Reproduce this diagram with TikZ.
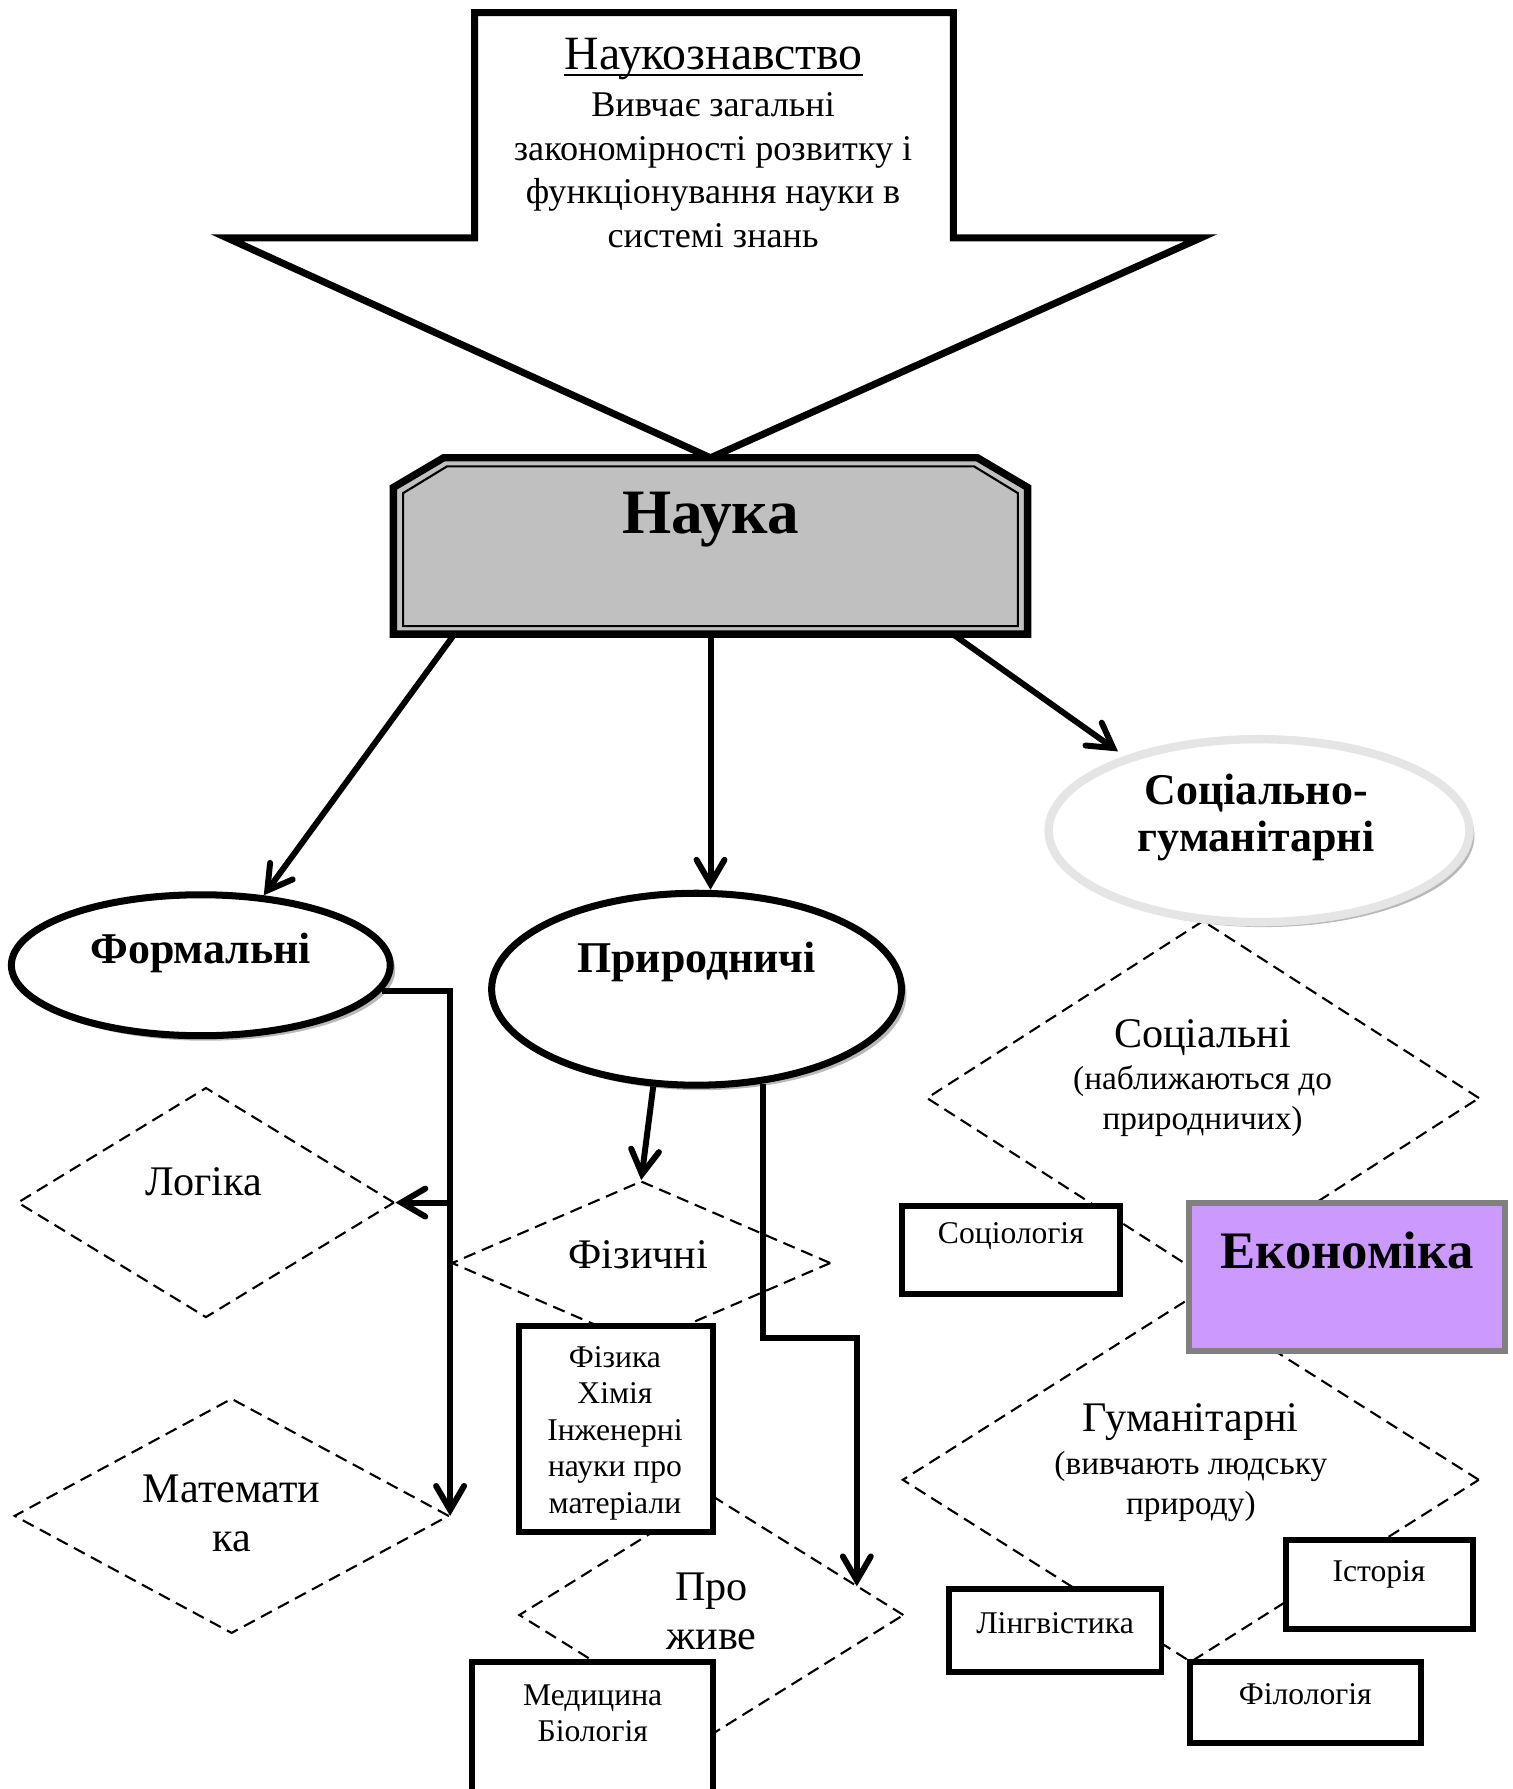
\documentclass[tikz,border=0pt]{standalone}
\usepackage{fontspec}
\setmainfont{Liberation Serif}
\usetikzlibrary{shapes.geometric, arrows.meta, calc, positioning, shadows}
\definecolor{naukagray}{HTML}{C0C0C0}
\definecolor{econviolet}{HTML}{CC99FF}
\definecolor{econborder}{HTML}{808080}
\tikzset{>=latex}
\tikzset{
  field/.style={ellipse, draw=black, line width=2pt, fill=white, inner sep=0,
    drop shadow={shadow xshift=0.5mm, shadow yshift=-0.5mm, fill=gray!55, opacity=1}},
  branch/.style={shape=diamond, draw=black, line width=0.6pt, dash pattern=on 3.5pt off 2pt, inner sep=0},
  leaf/.style={rectangle, draw=black, line width=1.7pt, fill=white, inner sep=0},
  arrow/.style={-{Straight Barb[length=2.4mm, width=2.8mm, line cap=round]}, line width=1.7pt},
  title/.style={font=\bfseries\fontsize{12.5}{13.3}\selectfont, align=center, inner sep=0},
  branchtxt/.style={font=\fontsize{12}{14}\selectfont, align=center, inner sep=0},
  note/.style={font=\fontsize{9.5}{11.5}\selectfont, align=center, inner sep=0},
  leaftxt/.style={font=\fontsize{9}{10.4}\selectfont, align=center, inner sep=0}
}

\begin{document}
\begin{tikzpicture}[x=0.01141cm, y=-0.01141cm]
\useasboundingbox (0,0) rectangle (1326,1568);

% Science block and the big arrow above it
\node[minimum width=6.33cm, minimum height=1.75cm, inner sep=0] (nauka) at (622.75,478.5) {};
\draw[line width=2pt, fill=white, line join=miter]
    (416,11) -- (835.5,11) -- (835.5,208.4) -- (1052.6,208.4) -- (nauka.north)
    -- (198.8,208.4) -- (416,208.4) -- cycle;
\node[font=\fontsize{13.6}{16}\selectfont, inner sep=0] (ns-title) at (625.6,51.7) {Наукознавство};
\draw[line width=0.7pt] ([yshift=-1.6pt]ns-title.base west) -- ([yshift=-1.6pt]ns-title.base east);
\node[font=\fontsize{10.3}{12.4}\selectfont, align=center, inner sep=0] (ns-body) at (625,149.3)
    {Вивчає загальні\\закономірності розвитку і\\функціонування науки в\\системі знань};

\draw[line width=2.1pt, fill=naukagray]
    (nauka.south west) -- ($(nauka.north west)+(0,26)$) -- ($(nauka.north west)+(44,0)$)
    -- ($(nauka.north east)+(-44,0)$) -- ($(nauka.north east)+(0,26)$) -- (nauka.south east) -- cycle;
\draw[line width=0.6pt]
    ($(nauka.south west)+(8.5,-7)$) -- ($(nauka.north west)+(8.5,31)$) -- ($(nauka.north west)+(47,7.5)$)
    -- ($(nauka.north east)+(-47,7.5)$) -- ($(nauka.north east)+(-8.5,31)$) -- ($(nauka.south east)+(-8.5,-7)$) -- cycle;
\node[font=\bfseries\fontsize{18}{20}\selectfont, inner sep=0] (nauka-t) at (622.75,455.6) {Наука};

% Dashed branches
\node[branch, minimum width=3.77cm, minimum height=2.30cm] (logic) at (180.5,1054) {};
\node[branch, minimum width=4.35cm, minimum height=2.35cm] (math) at (203,1328.6) {};
\node[branch, minimum width=3.79cm, minimum height=1.64cm] (phys) at (562,1107) {};
\node[branch, minimum width=3.85cm, minimum height=2.40cm] (alive) at (623.5,1415.5) {};
\node[branch, minimum width=5.53cm, minimum height=3.55cm] (social) at (1054.4,962.4) {};
\node[branch, minimum width=5.77cm, minimum height=3.65cm] (human) at (1043.7,1297) {};

% Boxes
\node[leaf, minimum width=1.94cm, minimum height=2.06cm] (physbox) at (540,1252.75) {};
\node[leaf, minimum width=2.41cm, minimum height=1.63cm] (medbox) at (519.5,1528.5) {};
\node[leaf, minimum width=2.18cm, minimum height=0.88cm] (sociology) at (886,1095.5) {};
\node[leaf, draw=econborder, fill=econviolet, minimum width=3.16cm, minimum height=1.48cm] (economy) at (1180.5,1119) {};
\node[leaf, minimum width=2.13cm, minimum height=0.83cm] (ling) at (924.7,1429) {};
\node[leaf, minimum width=1.87cm, minimum height=0.89cm] (history) at (1208.7,1389) {};
\node[leaf, minimum width=2.31cm, minimum height=0.81cm] (philology) at (1144,1492) {};

% Main fields
\node[field, minimum width=3.79cm, minimum height=1.41cm] (formal) at (176,846) {};
\node[field, minimum width=4.10cm, minimum height=1.92cm] (nat) at (610.5,867) {};
\node[field, draw=gray!20, line width=2.4pt, minimum width=4.21cm, minimum height=1.83cm] (sochum) at (1103.5,728) {};

% Connectors
\draw[arrow] (nauka.-161) -- (formal.48);
\draw[arrow] (nauka.south) -- (nauka.south |- nat.north);
\draw[arrow, shorten >=0.8mm] (nauka.-20) -- (sochum.151);
\draw[arrow] (formal.-8) -| (math.east);
\draw[arrow] (logic.east -| math.east) -- (logic.east);
\draw[arrow] (nat.-114) -- (phys.north);
\coordinate (nat-bend) at (751,1172.7);
\draw[arrow] (nat.-55) |- (nat-bend) -- (nat-bend |- alive.11);

% Texts
\node[title] (formal-t) at (176,835) {Формальні};
\node[title] (nat-t) at (610.5,843) {Природничі};
\node[title] (sochum-t) at (1101,716.5) {Соціально-\\гуманітарні};
\node[branchtxt] (logic-t) at (178.5,1036) {Логіка};
\node[branchtxt] (math-t) at (203,1326.4) {Математи\\ка};
\node[branchtxt] (phys-t) at (559.5,1100) {Фізичні};
\node[branchtxt] (alive-t) at (623.5,1412.5) {Про\\живе};
\node[branchtxt] (social-t) at (1054,909) {Соціальні};
\node[note] (social-n) at (1054,965.3) {(наближаються до\\природничих)};
\node[branchtxt] (human-t) at (1043.7,1246.5) {Гуманітарні};
\node[note] (human-n) at (1043.7,1302.8) {(вивчають людську\\природу)};
\node[leaftxt] (physbox-t) at (539,1256) {Фізика\\Хімія\\Інженерні\\науки про\\матеріали};
\node[leaftxt] (med-t) at (519.5,1501.5) {Медицина\\Біологія};
\node[leaftxt] (sociology-t) at (886,1083.8) {Соціологія};
\node[font=\bfseries\fontsize{15}{17}\selectfont, inner sep=0] (economy-t) at (1180.5,1095.7) {Економіка};
\node[leaftxt] (ling-t) at (924.7,1422.6) {Лінгвістика};
\node[leaftxt] (history-t) at (1208.7,1379.6) {Історія};
\node[leaftxt] (philology-t) at (1144,1485) {Філологія};

\end{tikzpicture}
\end{document}
